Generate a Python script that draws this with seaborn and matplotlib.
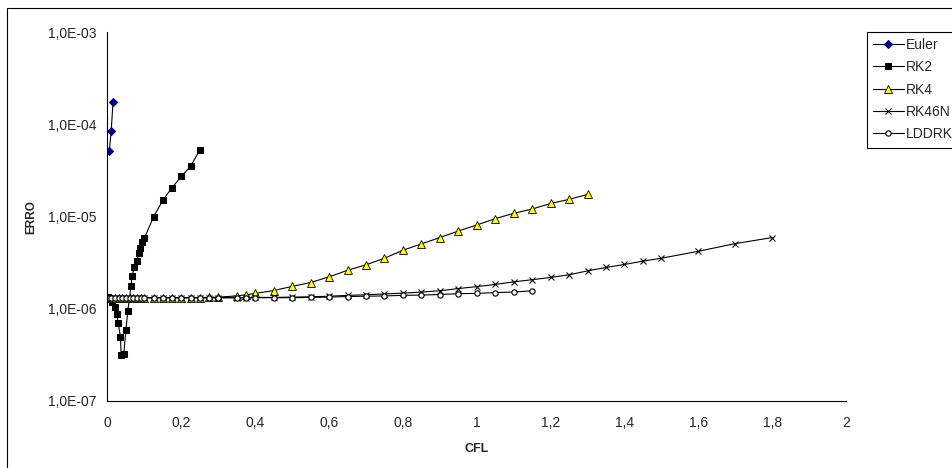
import seaborn as sns
import matplotlib.pyplot as plt
from matplotlib.patches import Rectangle

# values
euler_cfl = [0.005, 0.01, 0.015]
euler_erro = [5.2e-5, 8.5e-5, 1.75e-4]

rk2_cfl = [0.001, 0.005, 0.012, 0.02, 0.025, 0.029, 0.035, 0.037, 0.044, 0.05,
           0.055, 0.064, 0.066, 0.073, 0.079, 0.085, 0.088, 0.094, 0.1,
           0.125, 0.15, 0.175, 0.2, 0.225, 0.25]
rk2_erro = [1.33e-6, 1.31e-6, 1.19e-6, 1.04e-6, 8.85e-7, 6.97e-7, 4.99e-7, 3.16e-7, 3.22e-7, 5.94e-7,
            9.54e-7, 1.78e-6, 2.25e-6, 2.81e-6, 3.29e-6, 4.01e-6, 4.62e-6, 5.31e-6, 5.87e-6,
            1.0e-5, 1.51e-5, 2.07e-5, 2.73e-5, 3.52e-5, 5.3e-5]

# shared CFL grid for RK4, RK46N and LDDRK (each series uses the first N points)
cfl_grid = [0.005, 0.01, 0.02, 0.03, 0.04, 0.05, 0.06, 0.07, 0.08, 0.09, 0.1,
            0.125, 0.15, 0.175, 0.2, 0.225, 0.25, 0.275, 0.3, 0.35, 0.375, 0.4, 0.45, 0.5,
            0.55, 0.6, 0.65, 0.7, 0.75, 0.8, 0.85, 0.9, 0.95, 1.0,
            1.05, 1.1, 1.15, 1.2, 1.25, 1.3, 1.35, 1.4, 1.45, 1.5,
            1.6, 1.7, 1.8]

rk4_erro = [1.32e-6, 1.32e-6, 1.32e-6, 1.32e-6, 1.32e-6, 1.32e-6, 1.32e-6, 1.32e-6, 1.32e-6, 1.32e-6, 1.32e-6,
            1.32e-6, 1.32e-6, 1.32e-6, 1.32e-6, 1.32e-6, 1.32e-6, 1.33e-6, 1.34e-6, 1.38e-6, 1.42e-6, 1.47e-6, 1.58e-6, 1.75e-6,
            1.93e-6, 2.22e-6, 2.62e-6, 3.0e-6, 3.54e-6, 4.32e-6, 5.06e-6, 5.93e-6, 6.98e-6, 8.11e-6,
            9.5e-6, 1.086e-5, 1.21e-5, 1.39e-5, 1.54e-5, 1.74e-5]

rk46n_erro = [1.32e-6, 1.32e-6, 1.32e-6, 1.32e-6, 1.32e-6, 1.32e-6, 1.32e-6, 1.32e-6, 1.32e-6, 1.32e-6, 1.32e-6,
              1.32e-6, 1.32e-6, 1.32e-6, 1.32e-6, 1.32e-6, 1.32e-6, 1.32e-6, 1.32e-6, 1.32e-6, 1.32e-6, 1.33e-6, 1.33e-6, 1.34e-6,
              1.35e-6, 1.37e-6, 1.40e-6, 1.42e-6, 1.45e-6, 1.48e-6, 1.52e-6, 1.57e-6, 1.66e-6, 1.74e-6,
              1.84e-6, 1.96e-6, 2.07e-6, 2.19e-6, 2.34e-6, 2.58e-6, 2.81e-6, 3.03e-6, 3.29e-6, 3.54e-6,
              4.21e-6, 5.1e-6, 5.93e-6]

lddrk_erro = [1.32e-6, 1.32e-6, 1.32e-6, 1.32e-6, 1.32e-6, 1.32e-6, 1.32e-6, 1.32e-6, 1.32e-6, 1.32e-6, 1.32e-6,
              1.32e-6, 1.32e-6, 1.32e-6, 1.32e-6, 1.32e-6, 1.32e-6, 1.32e-6, 1.32e-6, 1.32e-6, 1.32e-6, 1.32e-6, 1.32e-6, 1.32e-6,
              1.33e-6, 1.34e-6, 1.36e-6, 1.37e-6, 1.38e-6, 1.40e-6, 1.41e-6, 1.43e-6, 1.46e-6, 1.47e-6,
              1.50e-6, 1.52e-6, 1.57e-6]

x_ticks = [0, 0.2, 0.4, 0.6, 0.8, 1.0, 1.2, 1.4, 1.6, 1.8, 2.0]
x_labels = ["0", "0,2", "0,4", "0,6", "0,8", "1", "1,2", "1,4", "1,6", "1,8", "2"]
y_ticks = [1e-7, 1e-6, 1e-5, 1e-4, 1e-3]
y_labels = ["1,0E-07", "1,0E-06", "1,0E-05", "1,0E-04", "1,0E-03"]

sns.set_style("white")
plt.rcParams['font.family'] = ['Liberation Sans', 'DejaVu Sans']

fig = plt.figure(figsize=(9.53, 4.68), dpi=100)
ax = fig.add_axes([107.5 / 953, 1 - 401 / 468, (846 - 107.5) / 953, (401 - 32.3) / 468])

lw = 0.8
sns.lineplot(ax=ax, x=euler_cfl, y=euler_erro, label="Euler", color="black", lw=lw,
             marker="D", markersize=3.6, markerfacecolor="#000080", markeredgecolor="#000080")
sns.lineplot(ax=ax, x=rk2_cfl, y=rk2_erro, label="RK2", color="black", lw=lw,
             marker="s", markersize=4.5, markerfacecolor="black", markeredgecolor="black")
sns.lineplot(ax=ax, x=cfl_grid[:len(rk4_erro)], y=rk4_erro, label="RK4", color="black", lw=lw,
             marker="^", markersize=5.5, markerfacecolor="#ffff00", markeredgecolor="black", markeredgewidth=0.6)
sns.lineplot(ax=ax, x=cfl_grid[:len(rk46n_erro)], y=rk46n_erro, label="RK46N", color="black", lw=lw,
             marker="x", markersize=5, markeredgecolor="black", markeredgewidth=0.8)
sns.lineplot(ax=ax, x=cfl_grid[:len(lddrk_erro)], y=lddrk_erro, label="LDDRK", color="black", lw=lw,
             marker="o", markersize=3.8, markerfacecolor="white", markeredgecolor="black", markeredgewidth=0.8)

ax.set_yscale("log")
ax.set_xlim(0, 2)
ax.set_ylim(1e-7, 1e-3)
ax.set_xticks(x_ticks, labels=x_labels)
ax.set_yticks(y_ticks, labels=y_labels)
ax.minorticks_off()
ax.tick_params(axis="both", direction="out", length=4, width=0.8, color="black", labelsize=10)
ax.tick_params(axis="x", pad=7)
ax.tick_params(axis="y", pad=4)
sns.despine(ax=ax, top=True, right=True)
for side in ["left", "bottom"]:
    ax.spines[side].set_color("black")
    ax.spines[side].set_linewidth(0.8)

ax.set_xlabel("CFL", fontsize=9, fontweight="bold", labelpad=9)
ax.set_ylabel("ERRO", fontsize=8.5, fontweight="bold", labelpad=8)

handles, labels = ax.get_legend_handles_labels()
ax.get_legend().remove()
leg = fig.legend(handles, labels, loc="upper left", bbox_to_anchor=(866.7 / 953, 1 - 31.7 / 468),
                 fontsize=10, frameon=True, fancybox=False, framealpha=1, borderaxespad=0,
                 handlelength=2.2, handletextpad=0.2, labelspacing=0.6, borderpad=0.45)
leg.get_frame().set_edgecolor("black")
leg.get_frame().set_linewidth(0.8)

# outer chart frame
fig.patches.append(Rectangle((7 / 953, -0.1), 1.1, 1 - 8 / 468 + 0.1, transform=fig.transFigure,
                             fill=False, edgecolor="black", lw=0.8))

fig.savefig("out.png", dpi=100)
